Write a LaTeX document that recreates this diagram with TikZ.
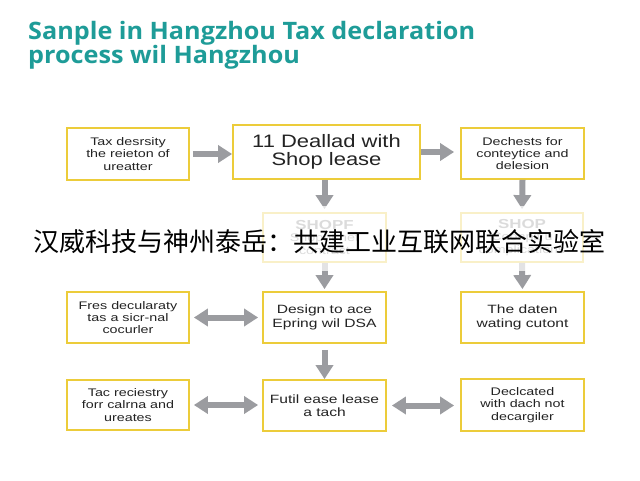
\documentclass[tikz,border=0pt]{standalone}
\usepackage{fontspec}
\usetikzlibrary{arrows.meta}
\setmainfont{Liberation Sans}
\newfontfamily\boxfont{Liberation Sans}[FakeStretch=1.3]
\newfontfamily\bigboxfont{Liberation Sans}[FakeStretch=1.22]
\newfontfamily\titlefont{Open Sans}[FakeStretch=1.05]
\newfontfamily\cjkfont{Noto Sans CJK SC}
\definecolor{teal1}{RGB}{30,156,152}
\definecolor{boxyellow}{RGB}{236,204,58}
\definecolor{arrowgray}{RGB}{155,156,160}
\definecolor{boxtext}{RGB}{35,35,35}
\tikzset{
  box/.style={draw=boxyellow, line width=1.8pt, fill=white, align=center, inner sep=0pt,
    text=boxtext, font=\boxfont\fontsize{11}{12.3}\selectfont},
  fadedbox/.style={box, text=gray},
  garrow/.style={draw=arrowgray, line width=6pt, -{Triangle[length=14pt,width=17pt]}},
  gdarrow/.style={draw=arrowgray, line width=6pt, {Triangle[length=14pt,width=17pt]}-{Triangle[length=14pt,width=17pt]}},
  titletext/.style={anchor=base west, inner sep=0pt, text=teal1, font=\titlefont\bfseries\fontsize{24}{27}\selectfont},
}
\begin{document}
\begin{tikzpicture}[x=1pt,y=-1pt]
\useasboundingbox (0,0) rectangle (640,480);
\fill[white] (0,0) rectangle (640,480);

% title
\node[titletext] (title1) at (28,39) {Sanple in Hangzhou Tax declaration};
\node[titletext] (title2) at (28,63) {process wil Hangzhou};

% row 1
\node[box, minimum width=122pt, minimum height=52pt] (A) at (128,154) {Tax desrsity\\the reieton of\\ureatter};
\node[box, minimum width=187pt, minimum height=54pt, font=\bigboxfont\fontsize{18}{17.5}\selectfont] (B) at (326.5,152) {11 Deallad with\\Shop lease};
\node[box, minimum width=123pt, minimum height=51pt] (C) at (522.5,153.5) {Dechests for\\conteytice and\\delesion};

% row 2 (faded)
\node[fadedbox, minimum width=123pt, minimum height=49pt] (D) at (324.5,237.5) {{\bfseries\fontsize{13}{14}\selectfont SHOPF}\\Shopnt net\\contract};
\node[fadedbox, minimum width=122pt, minimum height=49pt] (E) at (522,237.5) {{\bfseries\fontsize{13}{14}\selectfont SHOP}\\Coonplt u\\complications};

% row 3
\node[box, minimum width=122pt, minimum height=51pt] (F) at (128,317.5) {Fres decularaty\\tas a sicr-nal\\cocurler};
\node[box, minimum width=123pt, minimum height=51pt, font=\boxfont\fontsize{12}{13.5}\selectfont] (G) at (324.5,317.5) {Design to ace\\Epring wil DSA};
\node[box, minimum width=123pt, minimum height=51pt, font=\boxfont\fontsize{12}{13.5}\selectfont] (H) at (522.5,317.5) {The daten\\wating cutont};

% row 4
\node[box, minimum width=122pt, minimum height=50pt] (I) at (128,405) {Tac reciestry\\forr calrna and\\ureates};
\node[box, minimum width=123pt, minimum height=51pt, font=\boxfont\fontsize{12}{13.5}\selectfont] (J) at (324.5,405.5) {Futil ease lease\\a tach};
\node[box, minimum width=123pt, minimum height=52pt] (K) at (522.5,405) {Declcated\\with dach not\\decargiler};

% arrows
\draw[garrow, shorten <=3pt] (A.east) -- (A.east -| B.west);
\draw[garrow, shorten >=6pt] (B.east) -- (B.east -| C.west);
\draw[garrow, shorten >=3pt] (D.north |- B.south) -- (D.north);
\draw[garrow, shorten >=2pt] (D.south) -- (G.north);
\draw[garrow, shorten >=3pt] (C.south) -- (E.north);
\draw[garrow, shorten >=2pt] (E.south) -- (H.north);
\draw[garrow, shorten <=6pt] (G.south) -- (J.north);
\draw[gdarrow, shorten <=4pt, shorten >=4pt] (F.east) -- (G.west);
\draw[gdarrow, shorten <=4pt, shorten >=4pt] (I.east) -- (I.east -| J.west);
\draw[gdarrow, shorten <=5pt, shorten >=6pt] (J.east) -- (J.east -| K.west);

% overlay band and caption
\fill[white, opacity=0.72] (0,206) rectangle (640,271);
\node[inner sep=0pt, font=\cjkfont\fontsize{26}{28}\selectfont, text=black] (caption) at (319,242) {汉威科技与神州泰岳：共建工业互联网联合实验室};
\end{tikzpicture}
\end{document}
